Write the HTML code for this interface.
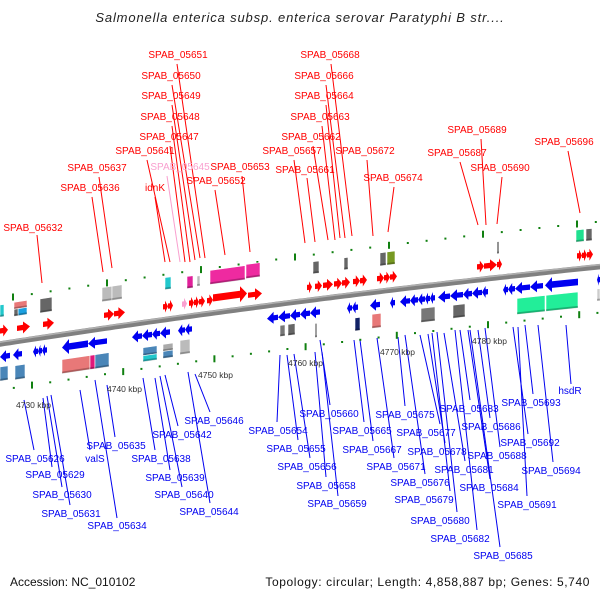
<!DOCTYPE html>
<html><head><meta charset="utf-8"><style>
html,body{margin:0;padding:0;background:#fff;}
svg{display:block;font-family:"Liberation Sans",sans-serif;}
</style></head><body>
<svg id="chart" width="600" height="600" viewBox="0 0 600 600" xmlns="http://www.w3.org/2000/svg">
<text x="300" y="22" text-anchor="middle" font-size="13" letter-spacing="0.85" font-style="italic" fill="#222">Salmonella enterica subsp. enterica serovar Paratyphi B str....</text>
<g id="labels"></g>
<g id="rings"></g>
<path id="bb" fill="none" stroke="#808080" stroke-width="5.5"/>
<path id="bbhi" fill="none" stroke="#b0b0b0" stroke-width="1.5"/>
<g id="feats"></g>
<g id="ticklabels"></g>
<text x="10" y="586" font-size="12" fill="#111">Accession: NC_010102</text>
<text x="590" y="586" text-anchor="end" font-size="12" letter-spacing="0.6" fill="#111">Topology: circular; Length: 4,858,887 bp; Genes: 5,740</text>
</svg>
<script>
const NS="http://www.w3.org/2000/svg";
// forward CDS (x start, x end)
const fwdArrows=[[0,8],[17,30],[43,54],[104,114],[114,125],[163,168],[168,173],[189,194],[194,199],[199,205],[207,213],[213,247],[248,262],[307,312],[315,322],[323,333],[334,342],[342,350],[353,360],[360,367],[377,384],[384,390],[390,397],[477,484],[484,497],[497,502],[577,582],[582,587],[587,593]];
const pinkArrows=[[182,187]];
const revArrows=[[0,10],[13,22],[33,38],[38,42],[42,47],[62,88],[88,107],[132,142],[142,152],[152,160],[160,170],[178,185],[185,192],[267,278],[278,290],[290,300],[300,310],[310,320],[347,352],[352,358],[370,380],[390,395],[400,410],[410,418],[418,425],[425,430],[430,435],[438,450],[450,463],[463,472],[472,482],[482,488],[503,508],[508,515],[515,530],[530,543],[545,578],[597,600]];
const upperBoxes=[[0,4,'#22c8cc',12,-33],[14,27,'#e87878',7,-36],[18,27,'#1aa0e0',7,-29],[14,18,'#666',7,-29],[40,52,'#666',14,-32],[102,112,'#bbb',14,-34],[112,122,'#bbb',14,-34],[165,171,'#22c8cc',12,-36],[187,193,'#e0209a',12,-34],[197,200,'#bbb',10,-34],[210,245,'#ee2aa0',14,-36],[246,260,'#ee2aa0',14,-37],[313,319,'#666',12,-32],[344,348,'#666',12,-32],[380,386,'#666',13,-32],[387,395,'#779922',13,-32],[497,499,'#666',12,-30],[576,584,'#20e090',12,-33],[586,592,'#666',12,-33]];
const lowerBoxes=[[0,8,'#4a86b8',14,30],[15,25,'#4a86b8',14,31],[62,90,'#e87878',14,32],[90,95,'#e0187a',14,32],[95,109,'#4a86b8',14,32],[143,157,'#4a86b8',8,29],[143,157,'#22c8cc',6,36],[163,173,'#aaa',7,28],[163,173,'#4a86b8',7,35],[180,190,'#bbb',14,30],[280,285,'#777',11,27],[288,295,'#666',11,27],[315,317,'#777',14,31],[355,360,'#112266',13,30],[372,381,'#e87878',14,29],[421,435,'#777',14,29],[453,465,'#666',13,29],[517,545,'#22ee99',16,31],[546,578,'#22ee99',16,31],[597,600,'#ccc',12,28]];
const tickKbp=[4730,4740,4750,4760,4770,4780];
const tickLabelPos=[[16,408],[107,392],[198,378],[288,366],[380,355],[472,344]];
const topLabels=[["SPAB_05651",178,58,177,64,205,258],["SPAB_05650",171,79,172,85,200,258],["SPAB_05649",171,99,172,105,195,260],["SPAB_05648",170,120,172,126,190,262],["SPAB_05647",169,140,170,146,185,262],["SPAB_05641",145,154,147,160,170,262],["SPAB_05637",97,171,99,177,112,268],["SPAB_05636",90,191,92,197,103,272],["idnK",155,191,155,197,165,262],["SPAB_05653",240,170,242,176,250,252],["SPAB_05652",216,184,215,190,225,255],["SPAB_05632",33,231,37,235,42,283],["SPAB_05668",330,58,331,64,352,236],["SPAB_05666",324,79,326,85,345,238],["SPAB_05664",324,99,326,105,340,238],["SPAB_05663",320,120,322,126,335,240],["SPAB_05662",311,140,313,146,328,240],["SPAB_05657",292,154,294,160,305,243],["SPAB_05672",365,154,367,160,373,236],["SPAB_05661",305,173,307,178,315,242],["SPAB_05674",393,181,394,187,388,232],["SPAB_05689",477,133,481,139,486,225],["SPAB_05687",457,156,460,162,478,225],["SPAB_05690",500,171,502,177,497,224],["SPAB_05696",564,145,568,151,580,213]];
const pinkLabels=[["SPAB_05645",180,170,167,176,180,262]];
const botLabels=[["SPAB_05626",35,462,34,450,24,400],["SPAB_05629",55,478,52,467,43,398],["SPAB_05630",62,498,62,487,47,396],["SPAB_05631",71,517,70,505,51,395],["SPAB_05634",117,529,117,518,95,380],["valS",95,462,90,450,80,390],["SPAB_05635",116,449,115,437,107,385],["SPAB_05638",161,462,155,450,143,378],["SPAB_05642",182,438,178,426,165,375],["SPAB_05646",214,424,210,412,195,374],["SPAB_05639",175,481,170,470,155,378],["SPAB_05640",184,498,182,487,160,376],["SPAB_05644",209,515,210,503,188,372],["SPAB_05654",278,434,277,422,280,355],["SPAB_05655",296,452,298,440,287,355],["SPAB_05656",307,470,310,458,294,354],["SPAB_05658",326,489,326,477,315,352],["SPAB_05659",337,507,338,496,322,352],["SPAB_05660",329,417,330,405,320,340],["SPAB_05665",362,434,364,422,354,340],["SPAB_05667",372,453,373,441,360,340],["SPAB_05671",396,470,394,458,377,338],["SPAB_05675",405,418,405,406,398,337],["SPAB_05677",426,436,440,424,420,335],["SPAB_05676",420,486,425,474,405,335],["SPAB_05678",437,455,445,443,428,334],["SPAB_05681",464,473,465,461,444,333],["SPAB_05679",424,503,450,491,432,333],["SPAB_05680",440,524,457,512,437,332],["SPAB_05682",460,542,477,530,455,330],["SPAB_05685",503,559,500,547,470,330],["SPAB_05683",469,412,470,400,460,330],["SPAB_05686",491,430,490,418,478,330],["SPAB_05688",497,459,500,447,485,328],["SPAB_05684",489,491,490,479,468,330],["SPAB_05691",527,508,527,496,518,327],["SPAB_05693",531,406,533,394,525,325],["SPAB_05692",530,446,528,434,513,327],["SPAB_05694",551,474,553,462,538,325],["hsdR",570,394,571,384,566,325]];

function yb(x){return 344-0.155*x+0.0000433*x*x;}
function P(x,v){return (x).toFixed(1)+","+(yb(x)+v).toFixed(1);}
const bbPts=[];for(let x=-5;x<=605;x+=5)bbPts.push((bbPts.length?"L":"M")+x+","+yb(x).toFixed(1));
document.getElementById('bb').setAttribute('d',bbPts.join(""));
const hiPts=[];for(let x=-5;x<=605;x+=5)hiPts.push((hiPts.length?"L":"M")+x+","+(yb(x)-1.8).toFixed(1));
document.getElementById('bbhi').setAttribute('d',hiPts.join(""));

const feats=document.getElementById('feats');
function arrow(a,dir,v,h,color,name){
  const x1=a[0],x2=a[1],len=x2-x1,head=Math.min(7,len*0.6),sh=h*0.28;
  let pts;
  if(dir>0){const hx=x2-head;pts=[P(x1,v-h/2+sh),P(hx,v-h/2+sh),P(hx,v-h/2),P(x2,v),P(hx,v+h/2),P(hx,v+h/2-sh),P(x1,v+h/2-sh)];}
  else{const hx=x1+head;pts=[P(x2,v-h/2+sh),P(hx,v-h/2+sh),P(hx,v-h/2),P(x1,v),P(hx,v+h/2),P(hx,v+h/2-sh),P(x2,v+h/2-sh)];}
  const p=document.createElementNS(NS,'polygon');
  p.setAttribute('points',pts.join(' '));p.setAttribute('fill',color);
  
  
  feats.appendChild(p);
}
fwdArrows.forEach(a=>{const big=a[1]-a[0]>20;arrow(a,1,big?-15:-13,big?16:12,'#f00','forward-cds');});
pinkArrows.forEach(a=>arrow(a,1,-13,12,'#f9a0cf','forward-cds-pink'));
revArrows.forEach(a=>{const big=a[1]-a[0]>20;arrow(a,-1,13,big?15:12,'#0000f0','reverse-cds');});
function box(b,name){
  const [x1,x2,c,h,v]=b;
  const p=document.createElementNS(NS,'polygon');
  p.setAttribute('points',[P(x1,v-h/2),P(x2,v-h/2),P(x2,v+h/2),P(x1,v+h/2)].join(' '));
  p.setAttribute('fill',c);p.setAttribute('stroke','#fff');p.setAttribute('stroke-width','0.6');
  
  
  feats.appendChild(p);
  const s=document.createElementNS(NS,'polygon');
  s.setAttribute('points',[P(x1,v+h/2-2),P(x2,v+h/2-2),P(x2,v+h/2),P(x1,v+h/2)].join(' '));
  s.setAttribute('fill','rgba(0,0,0,0.25)');
  
  
  feats.appendChild(s);
}
upperBoxes.forEach(b=>box(b,'forward-feature-box'));
lowerBoxes.forEach(b=>box(b,'reverse-feature-box'));

const rings=document.getElementById('rings');
function ring(x0,step,v,name){
  for(let k=-1;k<8;k++){for(let m=0;m<5;m++){const x=x0+step*k+m*step/5;if(x<0||x>600)continue;
    const r=document.createElementNS(NS,'rect');
    const major=m===0;
    r.setAttribute('x',(x-1).toFixed(1));r.setAttribute('y',(yb(x)+v-(major?3.5:1)).toFixed(1));
    r.setAttribute('width',2);r.setAttribute('height',major?7:2);
    r.setAttribute('fill','#108010');
    
    
    rings.appendChild(r);}}
}
ring(13,94,-45,'outer-scale-dot');
ring(32,91.2,46,'inner-scale-dot');

const tl=document.getElementById('ticklabels');
tickKbp.forEach((k,i)=>{const t=document.createElementNS(NS,'text');
  t.setAttribute('x',tickLabelPos[i][0]);t.setAttribute('y',tickLabelPos[i][1]);
  t.setAttribute('font-size','8.5');t.setAttribute('fill','#333');
  t.textContent=k+' kbp';
  
  
  tl.appendChild(t);});

const lg=document.getElementById('labels');
function label(d,color,name){
  const [txt,tx,ty,x1,y1,x2,y2]=d;
  const l=document.createElementNS(NS,'line');
  l.setAttribute('x1',x1);l.setAttribute('y1',y1);l.setAttribute('x2',x2);l.setAttribute('y2',y2);
  l.setAttribute('stroke',color);l.setAttribute('stroke-width','1');
  
  
  lg.appendChild(l);
  const t=document.createElementNS(NS,'text');
  t.setAttribute('x',tx);t.setAttribute('y',ty);t.setAttribute('text-anchor','middle');
  t.setAttribute('font-size','10');t.setAttribute('fill',color);
  t.textContent=txt;
  
  
  lg.appendChild(t);
}
topLabels.forEach(d=>label(d,'#f00','forward-gene-label'));
pinkLabels.forEach(d=>label(d,'#f9a0cf','forward-gene-label-pink'));
botLabels.forEach(d=>label(d,'#0000f0','reverse-gene-label'));
</script>
</body></html>
